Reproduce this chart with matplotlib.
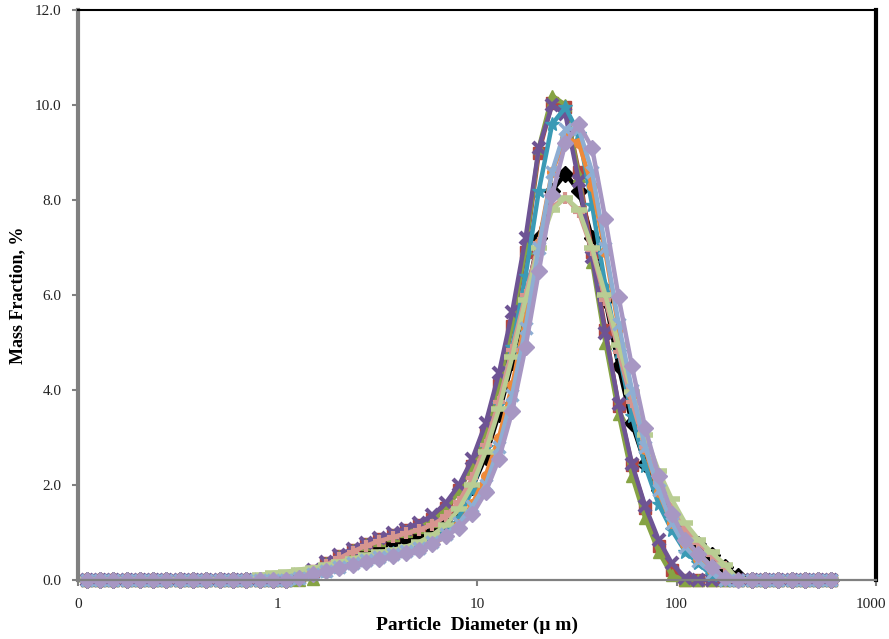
import matplotlib
matplotlib.use("Agg")
import matplotlib.pyplot as plt
from matplotlib.ticker import FixedLocator, NullLocator

# Particle size bins (µm)
diameter_um = [0.1105, 0.1288, 0.1502, 0.1751, 0.2042, 0.2381, 0.2776, 0.3236, 0.3773, 0.4399,
               0.5129, 0.5980, 0.6972, 0.8129, 0.9478, 1.105, 1.288, 1.502, 1.751, 2.042,
               2.381, 2.776, 3.236, 3.773, 4.399, 5.129, 5.980, 6.972, 8.129, 9.478,
               11.05, 12.88, 15.02, 17.51, 20.42, 23.81, 27.76, 32.36, 37.73, 43.99,
               51.29, 59.80, 69.72, 81.29, 94.78, 110.5, 128.8, 150.2, 175.1, 204.2,
               238.1, 277.6, 323.6, 377.3, 439.9, 512.9, 598.0]

Z15 = [0, 0, 0, 0, 0, 0, 0, 0, 0, 0, 0, 0, 0, 0, 0]

s1_black = Z15 + [0.0, 0.05, 0.15, 0.27, 0.38, 0.50, 0.62, 0.72, 0.80, 0.86,
                  0.92, 1.02, 1.18, 1.45, 1.95, 2.6, 3.5, 4.6, 5.9, 7.2,
                  8.2, 8.55, 8.2, 7.2, 5.9, 4.5, 3.3, 2.45, 1.9, 1.4,
                  1.02, 0.75, 0.52, 0.28, 0.08, 0, 0, 0, 0, 0, 0, 0]
s2_red = Z15 + [0.0, 0.08, 0.20, 0.35, 0.50, 0.64, 0.76, 0.86, 0.95, 1.05,
                1.15, 1.28, 1.52, 1.90, 2.40, 3.1, 4.1, 5.35, 6.9, 9.0,
                10.05, 9.95, 8.6, 6.9, 5.26, 3.66, 2.42, 1.52, 0.72, 0.22,
                0.0, 0, 0, 0, 0, 0, 0, 0, 0, 0, 0, 0]
s3_green = Z15 + [0.0, 0.0, 0.03, 0.35, 0.50, 0.63, 0.75, 0.85, 0.94, 1.03,
                  1.12, 1.25, 1.48, 1.88, 2.40, 3.1, 4.1, 5.4, 7.0, 9.1,
                  10.2, 10.0, 8.5, 6.7, 5.0, 3.5, 2.2, 1.3, 0.6, 0.1,
                  0.0, 0, 0, 0, 0, 0, 0, 0, 0, 0, 0, 0]
s4_purple = Z15 + [0.0, 0.10, 0.22, 0.37, 0.52, 0.66, 0.78, 0.88, 0.98, 1.08,
                   1.20, 1.36, 1.62, 2.00, 2.55, 3.3, 4.35, 5.65, 7.2, 9.1,
                   10.0, 9.8, 8.4, 6.8, 5.2, 3.7, 2.45, 1.55, 0.85, 0.35,
                   0.05, 0, 0, 0, 0, 0, 0, 0, 0, 0, 0, 0]
s5_teal = Z15 + [0.0, 0.05, 0.12, 0.20, 0.28, 0.36, 0.43, 0.50, 0.56, 0.62,
                 0.70, 0.82, 1.00, 1.30, 1.90, 2.8, 3.7, 4.9, 6.4, 8.2,
                 9.6, 9.95, 9.4, 7.9, 6.2, 4.8, 3.45, 2.4, 1.6, 1.05,
                 0.6, 0.35, 0.10, 0, 0, 0, 0, 0, 0, 0, 0, 0]
s6_orange = Z15 + [0.0, 0.04, 0.10, 0.18, 0.26, 0.33, 0.40, 0.45, 0.50, 0.56,
                   0.64, 0.75, 0.92, 1.18, 1.60, 2.2, 3.0, 4.1, 5.5, 7.1,
                   8.6, 9.3, 9.2, 8.3, 6.9, 5.3, 3.9, 2.75, 1.85, 1.2,
                   0.75, 0.45, 0.22, 0.05, 0, 0, 0, 0, 0, 0, 0, 0]
s7_pink = Z15 + [0.0, 0.05, 0.18, 0.32, 0.46, 0.60, 0.72, 0.82, 0.90, 0.98,
                 1.06, 1.16, 1.34, 1.65, 2.15, 2.85, 3.75, 4.85, 6.0, 7.1,
                 7.85, 8.05, 7.75, 6.95, 5.9, 4.8, 3.75, 2.8, 2.05, 1.5,
                 1.08, 0.78, 0.52, 0.27, 0.0, 0, 0, 0, 0, 0, 0, 0]
s8_lightgreen = [0, 0, 0, 0, 0, 0, 0, 0, 0, 0, 0, 0, 0, 0.10, 0.15] + \
                [0.17, 0.22, 0.26, 0.31, 0.38, 0.45, 0.52, 0.58, 0.63, 0.70,
                 0.80, 0.95, 1.15, 1.50, 2.00, 2.7, 3.6, 4.7, 5.9, 7.0,
                 7.8, 8.05, 7.8, 7.0, 6.0, 4.95, 3.95, 3.05, 2.3, 1.7,
                 1.2, 0.85, 0.58, 0.32, 0.0, 0, 0, 0, 0, 0, 0, 0]
s9_lightblue = Z15 + [0.0, 0.05, 0.12, 0.20, 0.28, 0.35, 0.42, 0.49, 0.55, 0.61,
                      0.68, 0.80, 0.96, 1.20, 1.55, 2.0, 2.8, 3.9, 5.3, 7.0,
                      8.6, 9.5, 9.5, 8.6, 7.0, 5.4, 4.0, 2.8, 1.9, 1.2,
                      0.7, 0.4, 0.15, 0.0, 0, 0, 0, 0, 0, 0, 0, 0]
s10_lavender = Z15 + [0.0, 0.05, 0.12, 0.19, 0.26, 0.32, 0.38, 0.44, 0.50, 0.56,
                      0.63, 0.76, 0.92, 1.10, 1.38, 1.85, 2.55, 3.55, 4.9, 6.5,
                      8.1, 9.2, 9.6, 9.1, 7.6, 5.95, 4.5, 3.2, 2.2, 1.4,
                      0.85, 0.55, 0.27, 0.05, 0.0, 0, 0, 0, 0, 0, 0, 0]

series = [
    (s1_black, "#000000", "D", 8, 1.0),
    (s2_red, "#B4463F", "s", 8, 1.0),
    (s3_green, "#86A344", "^", 9, 1.0),
    (s4_purple, "#6E5494", "x", 9, 3.0),
    (s5_teal, "#3A9AB5", "*", 10, 1.0),
    (s6_orange, "#EE8A3A", "o", 7, 1.0),
    (s7_pink, "#D6958F", "+", 9, 3.0),
    (s8_lightgreen, "#B9CD93", "_", 11, 4.0),
    (s9_lightblue, "#8EAED3", "x", 8, 2.5),
    (s10_lavender, "#A797C3", "D", 8, 1.0),
]

fig = plt.figure(figsize=(8.89, 6.39), dpi=100)
ax = fig.add_axes([78 / 889, 1 - 580 / 639, (876 - 78) / 889, (580 - 10) / 639])

for vals, col, mk, ms, mew in series:
    ax.plot(diameter_um, vals, color=col, lw=3.2, marker=mk, ms=ms,
            mfc=col, mec=col, mew=mew, solid_joinstyle="round", clip_on=False)

ax.set_xscale("log")
ax.set_xlim(0.1, 1000)
ax.set_ylim(0, 12)

x_ticks = [0.1, 1, 10, 100, 1000]
x_tick_labels = ["0", "1", "10", "100", "1000"]
y_ticks = [0, 2, 4, 6, 8, 10, 12]
y_tick_labels = ["0.0", "2.0", "4.0", "6.0", "8.0", "10.0", "12.0"]

serif = ["Liberation Serif", "DejaVu Serif"]

ax.xaxis.set_major_locator(FixedLocator(x_ticks))
ax.xaxis.set_minor_locator(NullLocator())
# last label is drawn separately, nudged left so it stays inside the canvas
ax.set_xticklabels(x_tick_labels[:-1] + [""])
ax.annotate(x_tick_labels[-1], xy=(x_ticks[-1], 0), xycoords=("data", "axes fraction"),
            xytext=(-4, -13), textcoords="offset points", ha="center", va="top",
            fontfamily=serif, fontsize=11, color="#222222", annotation_clip=False)
ax.set_yticks(y_ticks)
ax.set_yticklabels(y_tick_labels)

for lab in ax.get_xticklabels() + ax.get_yticklabels():
    lab.set_fontfamily(serif)
    lab.set_fontsize(11)
    lab.set_color("#222222")

ax.tick_params(axis="y", direction="out", length=4, width=1.5, color="#808080", pad=8)
ax.tick_params(axis="x", direction="out", length=4, width=1.5, color="#808080", pad=9)

ax.spines["left"].set_color("#808080")
ax.spines["left"].set_linewidth(3)
ax.spines["bottom"].set_color("#808080")
ax.spines["bottom"].set_linewidth(1.6)
ax.spines["top"].set_color("#000000")
ax.spines["top"].set_linewidth(1.5)
ax.spines["right"].set_color("#000000")
ax.spines["right"].set_linewidth(3)

ax.set_xlabel("Particle  Diameter (\u03bc m)", fontfamily=serif, fontweight="bold",
              fontsize=14, labelpad=4)
ax.set_ylabel("Mass Fraction, %", fontfamily=serif, fontweight="bold",
              fontsize=13, labelpad=6)

fig.savefig("out.png", dpi=100)
